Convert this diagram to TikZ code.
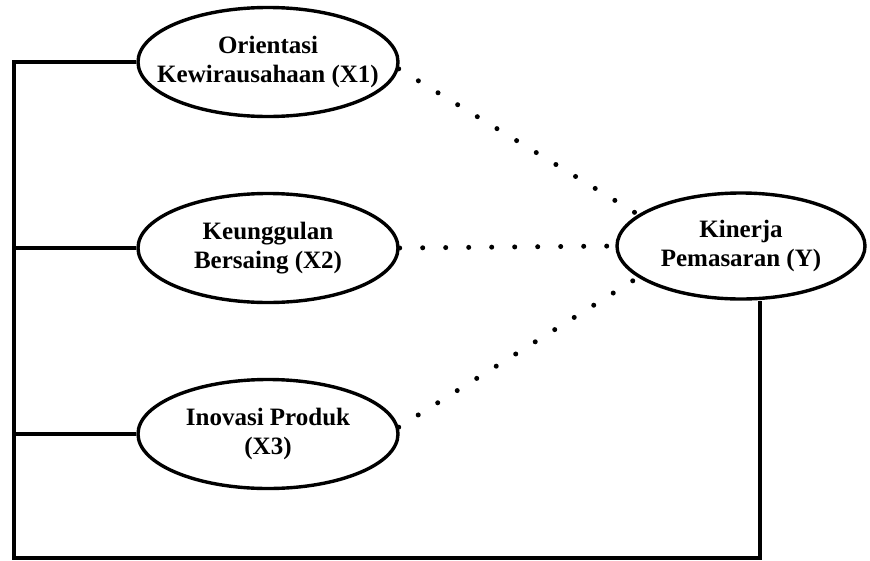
\documentclass[tikz,border=0pt]{standalone}
\usepackage{fontspec}
\setmainfont{Liberation Serif}
\usetikzlibrary{shapes.geometric}
\begin{document}
\begin{tikzpicture}[x=1pt,y=-1pt,
  var/.style={ellipse,draw,line width=3.4pt,minimum width=260pt,minimum height=109pt,inner sep=0pt},
  lbl/.style={align=center,inner sep=0pt,font=\fontsize{25}{29}\selectfont\bfseries},
  frame/.style={line width=3.2pt},
  dots/.style={line width=5pt,line cap=round,dash pattern=on 0pt off 23pt}]
\useasboundingbox (0,0) rectangle (870,560);
\fill[white] (0,0) rectangle (870,560);
\node[var] (X1) at (268,62) {};
\node[var] (X2) at (268,248) {};
\node[var] (X3) at (268,434) {};
\node[var,minimum width=248pt,minimum height=106pt] (Y) at (741,246) {};
\node[lbl] (X1t) at (X1) {Orientasi\\Kewirausahaan (X1)};
\node[lbl] (X2t) at (X2) {Keunggulan\\Bersaing (X2)};
\node[lbl] (X3t) at (X3) {Inovasi Produk\\(X3)};
\node[lbl] (Yt) at (Y) {Kinerja\\Pemasaran (Y)};
\coordinate (L) at (14,0);
\coordinate (B) at (0,558);
\coordinate (R) at ([xshift=19pt]Y.south);
\draw[frame] (X1.west) -- (X1.west -| L) -- (L |- B) -- (B -| R) -- (R);
\draw[frame] (X2.west) -- (X2.west -| L);
\draw[frame] (X3.west) -- (X3.west -| L);
\draw[dots] (X1.-3) -- (Y.163);
\draw[dots] (X2.east) -- (Y.west);
\draw[dots] (X3.3) -- (Y.197);
\end{tikzpicture}
\end{document}
